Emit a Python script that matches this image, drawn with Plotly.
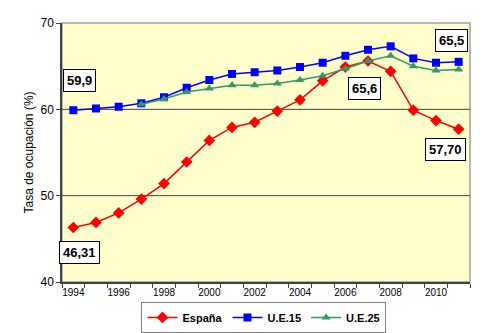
import plotly.graph_objects as go

years = list(range(1994, 2012))
espana = [46.31, 46.9, 48.0, 49.6, 51.4, 53.9, 56.4, 57.9, 58.5, 59.8, 61.1, 63.3, 64.9, 65.6, 64.4, 59.9, 58.7, 57.70]
ue15 = [59.9, 60.1, 60.3, 60.7, 61.4, 62.5, 63.4, 64.1, 64.3, 64.5, 64.9, 65.4, 66.2, 66.9, 67.3, 65.9, 65.4, 65.5]
ue25 = [None, None, None, 60.6, 61.2, 62.0, 62.4, 62.8, 62.8, 63.0, 63.4, 63.9, 64.7, 65.6, 66.2, 65.0, 64.5, 64.6]

tick_years = [1994, 1996, 1998, 2000, 2002, 2004, 2006, 2008, 2010]
labels = [
    ("59,9", 1994.28, 63.32),
    ("46,31", 1994.29, 43.47),
    ("65,5", 2010.70, 67.92),
    ("65,6", 2006.84, 62.41),
    ("57,70", 2010.44, 55.35),
]

FONT = "Liberation Sans, Arial, sans-serif"

fig = go.Figure()
fig.add_trace(go.Scatter(x=years, y=espana, name="España", mode="lines+markers",
                         line=dict(color="#ff0000", width=1.5),
                         marker=dict(symbol="diamond", size=9, color="#ff0000")))
fig.add_trace(go.Scatter(x=years, y=ue15, name="U.E.15", mode="lines+markers",
                         line=dict(color="#0000ff", width=1.5),
                         marker=dict(symbol="square", size=8, color="#0000ff")))
fig.add_trace(go.Scatter(x=years, y=ue25, name="U.E.25", mode="lines+markers",
                         line=dict(color="#339966", width=1.5),
                         marker=dict(symbol="triangle-up", size=8, color="#339966")))

shapes = [
    dict(type="rect", xref="paper", yref="paper", x0=0, x1=1, y0=0, y1=1,
         line=dict(color="#a0a0a0", width=1.5), layer="below"),
]
for gy in [50, 60]:
    shapes.append(dict(type="line", xref="paper", yref="y", x0=0, x1=1, y0=gy, y1=gy,
                       line=dict(color="#404040", width=1), layer="below"))

annotations = []
for txt, ax, ay in labels:
    annotations.append(dict(x=ax, y=ay, xref="x", yref="y", text=txt, showarrow=False,
                            font=dict(family=FONT, size=13, color="black", weight="bold"),
                            bgcolor="white", bordercolor="black", borderwidth=1, borderpad=3))

fig.update_layout(
    width=485, height=333,
    margin=dict(l=62, r=15, t=23, b=51, autoexpand=False),
    paper_bgcolor="white",
    plot_bgcolor="#ffffcc",
    font=dict(family=FONT, color="black"),
    showlegend=True,
    legend=dict(orientation="h", x=0.495, xanchor="center", y=-0.077, yanchor="top",
                bordercolor="#808080", borderwidth=1, bgcolor="white",
                font=dict(family=FONT, size=11, color="black", weight="bold"),
                itemwidth=30, tracegroupgap=0),
    shapes=shapes,
    annotations=annotations,
    xaxis=dict(range=[1993.5, 2011.5], tickvals=tick_years, ticktext=[str(t) for t in tick_years],
               showgrid=False, zeroline=False, showline=True, linecolor="#404040", linewidth=1.5,
               ticks="", tickfont=dict(family=FONT, size=10, color="black"),
               minor=dict(ticks="outside", tick0=1993.5, dtick=1, ticklen=4, tickcolor="#404040",
                          showgrid=False)),
    yaxis=dict(range=[40, 70], tickvals=[40, 50, 60, 70], showgrid=False, zeroline=False,
               showline=True, linecolor="#404040", linewidth=1.5,
               ticks="outside", ticklen=4, tickcolor="#404040",
               tickfont=dict(family=FONT, size=12, color="black"),
               title=dict(text="Tasa de ocupación (%)", font=dict(family=FONT, size=12, color="black"),
                          standoff=4)),
)

fig.write_html("out.html")
